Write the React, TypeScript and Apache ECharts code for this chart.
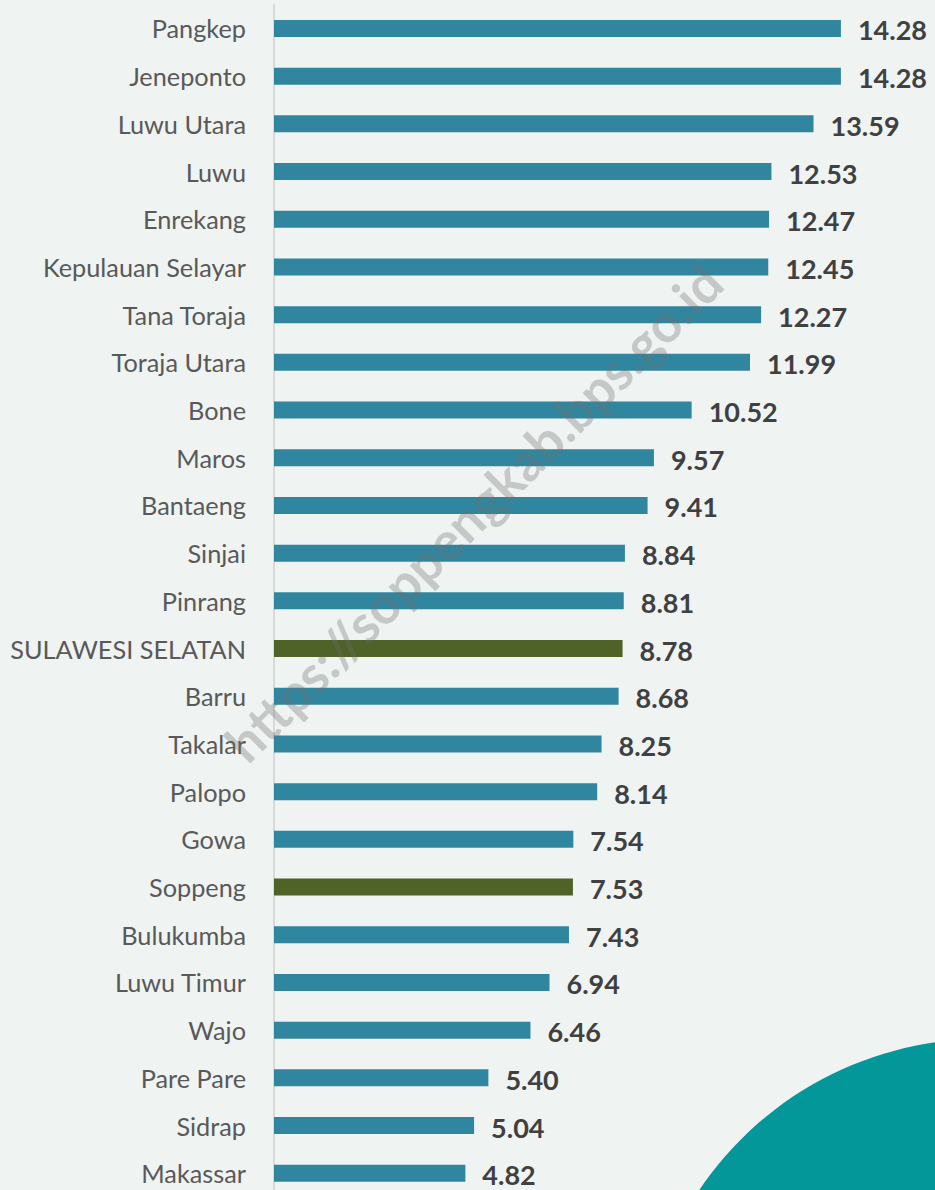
import React, { useEffect, useRef } from "react";
import * as echarts from "echarts";

const categories = [
  "Pangkep", "Jeneponto", "Luwu Utara", "Luwu", "Enrekang", "Kepulauan Selayar",
  "Tana Toraja", "Toraja Utara", "Bone", "Maros", "Bantaeng", "Sinjai", "Pinrang",
  "SULAWESI SELATAN", "Barru", "Takalar", "Palopo", "Gowa", "Soppeng", "Bulukumba",
  "Luwu Timur", "Wajo", "Pare Pare", "Sidrap", "Makassar",
];
const values = [
  14.28, 14.28, 13.59, 12.53, 12.47, 12.45, 12.27, 11.99, 10.52, 9.57, 9.41, 8.84, 8.81,
  8.78, 8.68, 8.25, 8.14, 7.54, 7.53, 7.43, 6.94, 6.46, 5.4, 5.04, 4.82,
];
const highlighted = ["SULAWESI SELATAN", "Soppeng"];
const watermark = "https://soppengkab.bps.go.id";

const TEAL = "#31869f";
const GREEN = "#4f6228";

export default function App() {
  const ref = useRef<HTMLDivElement>(null);
  useEffect(() => {
    if (!ref.current) return;
    const chart = echarts.init(ref.current, undefined, { renderer: "svg" });
    const xMax = 16;
    chart.setOption({
      animation: false,
      backgroundColor: "#eff3f2",
      grid: { left: 274, top: 4.6, width: xMax * 39.7, height: 1192.5, containLabel: false },
      xAxis: { type: "value", min: 0, max: xMax, show: false },
      yAxis: {
        type: "category",
        inverse: true,
        data: categories,
        axisLine: { show: true, lineStyle: { color: "#d9d9d9", width: 2 } },
        axisTick: { show: false },
        axisLabel: {
          margin: 28,
          fontSize: 25.3,
          color: "#595959",
          fontFamily: "Lato",
        },
      },
      series: [
        {
          type: "bar",
          barWidth: 17,
          data: values.map((v, i) => ({
            value: v,
            itemStyle: { color: highlighted.includes(categories[i]) ? GREEN : TEAL },
          })),
          label: {
            show: true,
            position: "right",
            distance: 17,
            offset: [0, 1.5],
            fontSize: 27,
            fontWeight: "bold",
            fontFamily: "Lato",
            color: "#404040",
            formatter: (p: any) => Number(p.value).toFixed(2),
          },
        },
      ],
      graphic: [
        {
          type: "circle",
          shape: { cx: 983, cy: 1381, r: 342 },
          style: { fill: "#03979a" },
          z: 1,
        },
        {
          type: "text",
          x: 473,
          y: 512,
          rotation: Math.PI / 4,
          z: 100,
          style: {
            text: watermark,
            fontSize: 53,
            fontWeight: "bold",
            fontFamily: "Lato",
            fill: "rgba(110,110,110,0.32)",
            align: "center",
            verticalAlign: "middle",
          },
        },
      ],
    });
    return () => chart.dispose();
  }, []);
  return (
    <div
      ref={ref}
      style={{ position: "fixed", left: 0, top: 0, width: 935, height: 1200 }}
    />
  );
}
